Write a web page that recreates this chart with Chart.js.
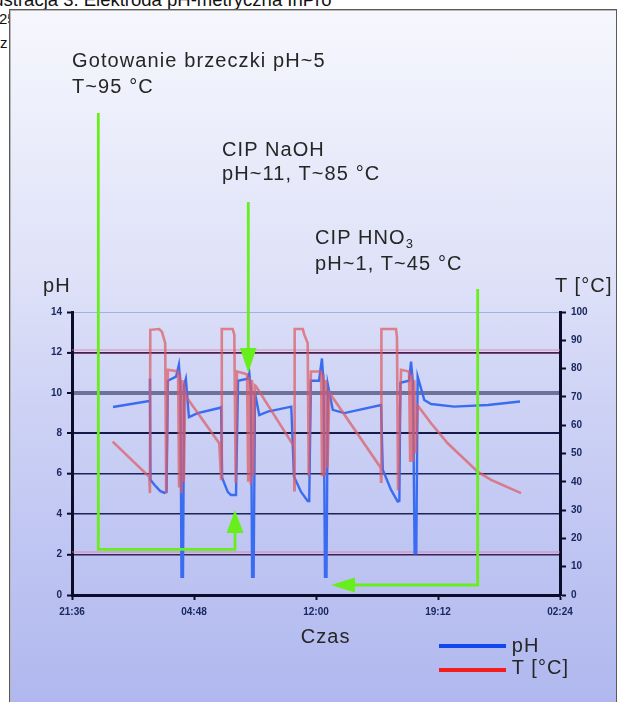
<!DOCTYPE html>
<html>
<head>
<meta charset="utf-8">
<script src="https://cdn.jsdelivr.net/npm/chart.js@4/dist/chart.umd.min.js"></script>
<style>
  html, body { margin:0; padding:0; }
  body { width:619px; height:702px; overflow:hidden; position:relative; background:#fff;
         font-family:"Liberation Sans", Arial, sans-serif; color:#222; }
  .t { position:absolute; white-space:nowrap; line-height:1; }
  #box { position:absolute; left:9px; top:9px; width:606px; height:720px;
         border:1px solid #5a5a5a; box-shadow: inset 1px 1px 0 #b8b8b8;
         background:linear-gradient(to bottom, #f6f7fd 0px, #dfe2f8 260px, #cdd2f5 400px, #adb5ee 720px); }
  #c { position:absolute; left:0; top:0; }
  .ann { font-size:20px; letter-spacing:1.1px; color:#262626; }
  svg { position:absolute; left:0; top:0; }
  .leg { position:absolute; height:4px; width:67px; left:439px; }
</style>
</head>
<body>
<div class="t" style="left:-16px; top:-9.5px; font-size:18.5px; color:#111;">Ilustracja 3. Elektroda pH-metryczna InPro</div>
<div class="t" style="left:-1px; top:11px; font-size:15px; color:#111;">25</div>
<div class="t" style="left:0px; top:35px; font-size:15px; color:#111;">z</div>
<div id="box"></div>
<canvas id="c" width="619" height="702"></canvas>

<div class="t ann" style="left:72px; top:50px;">Gotowanie brzeczki pH~5</div>
<div class="t ann" style="left:72px; top:75.6px;">T~95 °C</div>
<div class="t ann" style="left:222px; top:138.8px;">CIP NaOH</div>
<div class="t ann" style="left:222px; top:163.4px;">pH~11, T~85 °C</div>
<div class="t ann" style="left:315px; top:227.4px;">CIP HNO<sub style="font-size:13px;vertical-align:-4px;letter-spacing:0">3</sub></div>
<div class="t ann" style="left:315px; top:253.4px;">pH~1, T~45 °C</div>

<div class="t ann" style="left:43px; top:275.4px;">pH</div>
<div class="t ann" style="left:555px; top:275.4px;">T [°C]</div>
<div class="t ann" style="left:300.7px; top:626.4px;">Czas</div>

<div class="leg" style="top:644px; background:#1246ee;"></div>
<div class="leg" style="top:668px; background:#f41c1c;"></div>
<div class="t ann" style="left:511.7px; top:635.4px;">pH</div>
<div class="t ann" style="left:511.7px; top:657.4px;">T [°C]</div>

<svg width="619" height="702">
  <g fill="none" stroke="#68ee1c" stroke-width="2.8">
    <path d="M98.3 113 V549.3 H235 V532"/>
    <path d="M248.3 202 V350"/>
    <path d="M477.7 289 V585 H354"/>
  </g>
  <g fill="#68ee1c">
    <polygon points="226.5,533 243.5,533 235,510"/>
    <polygon points="240,348 256.5,348 248.3,373"/>
    <polygon points="355,577.5 355,592.5 331,585"/>
  </g>
</svg>

<script>
// ---- data (time in hours after 21:36) ----
const timeTickLabels = ['21:36', '04:48', '12:00', '19:12', '02:24'];
const phTickLabels = ['0','2','4','6','8','10','12','14'];

const phHours = [2.42, 4.56, 4.60, 4.63, 4.86, 5.20, 5.45, 5.58, 5.66, 6.14, 6.31, 6.40, 6.46, 6.55, 6.62, 6.72, 6.90, 7.42, 8.69,
  8.80, 8.86, 9.19, 9.38, 9.68, 9.80, 10.37, 10.46, 10.56, 10.63, 10.72, 10.80, 11.05, 11.55, 12.94,
  13.10, 13.52, 13.91, 14.00, 14.10, 14.58, 14.75, 14.85, 14.93, 15.02, 15.10, 15.39, 16.07, 18.24,
  18.34, 18.83, 19.22, 19.32, 19.38, 19.89, 20.01, 20.12, 20.22, 20.32, 20.40, 20.79, 21.19, 22.55, 24.55, 26.44];
const phValues = [9.3, 9.6, 10.7, 5.7, 5.45, 5.15, 5.05, 5.1, 10.6, 10.8, 11.4, 10.4, 0.9, 0.9, 10.4, 10.7, 8.8, 9.0, 9.25,
  9.3, 5.8, 5.1, 4.95, 4.95, 10.6, 10.7, 11.0, 10.2, 0.9, 0.9, 10.0, 8.9, 9.07, 9.32,
  5.86, 5.1, 4.65, 4.65, 10.6, 10.6, 11.7, 10.5, 0.9, 0.9, 10.4, 9.16, 9.0, 9.4,
  6.2, 5.2, 4.62, 4.65, 10.5, 10.6, 11.55, 10.5, 2.06, 2.06, 10.8, 9.65, 9.45, 9.32, 9.4, 9.57];

const tHours = [2.40, 4.56, 4.60, 4.62, 5.15, 5.31, 5.50, 5.56, 5.66, 6.26, 6.32, 6.38, 6.45, 6.52, 6.60, 6.68, 6.75, 8.69,
  8.80, 8.84, 9.48, 9.58, 9.66, 9.74, 10.33, 10.40, 10.47, 10.55, 10.62, 10.70, 10.80, 10.86, 13.10,
  13.12, 13.14, 13.62, 13.71, 13.91, 13.97, 14.10, 14.70, 14.76, 14.84, 14.92, 15.00, 15.08, 15.19, 18.22,
  18.24, 18.26, 19.12, 19.18, 19.24, 19.42, 19.89, 19.96, 20.04, 20.12, 20.20, 20.28, 20.40, 21.19, 22.17, 23.94, 24.73, 26.50];
const tValues = [54.2, 41.8, 36, 93.7, 94, 93, 89, 36, 79.6, 79, 38, 78, 36, 76, 40, 72, 70, 53.6,
  41, 94, 94, 92, 39.6, 79, 78, 40, 77, 39, 76, 42, 74, 73.7, 52.5,
  37, 94, 94, 92, 89, 42, 79, 79, 42, 78, 42, 76, 45, 71.5, 45,
  40, 94, 94, 91, 37, 79.6, 79, 47, 78, 47, 76, 50, 67, 60.7, 53.6, 43.6, 40.7, 36];

const toPts = (xs, ys) => xs.map((x, i) => ({ x: x, y: ys[i] }));

const gridColor = { 0:'#0b0b2a', 2:'#3a1f52', 4:'#1c2458', 6:'#1c2458', 8:'#141a4a', 10:'#6e7199', 12:'#4a1f50', 14:'#9fb3da' };
const gridWidth = { 0:1, 2:1.6, 4:1.4, 6:1.4, 8:2, 10:4, 12:1.8, 14:1 };

const fringe = {
  id: 'fringe',
  beforeDatasetsDraw(chart) {
    const { ctx, chartArea: a, scales: { y } } = chart;
    ctx.save();
    ctx.strokeStyle = 'rgba(225,120,165,0.55)';
    ctx.lineWidth = 1.5;
    [2, 12].forEach(v => {
      const py = y.getPixelForValue(v) - 2.5;
      ctx.beginPath(); ctx.moveTo(a.left, py); ctx.lineTo(a.right, py); ctx.stroke();
    });
    ctx.restore();
  }
};

const tickFont = { family: 'Liberation Sans', size: 10, weight: 'bold' };

new Chart(document.getElementById('c'), {
  type: 'line',
  data: {
    datasets: [
      { label: 'pH', data: toPts(phHours, phValues), yAxisID: 'y', borderColor: '#3a6cf2',
        borderWidth: 2.4, pointRadius: 0, tension: 0, order: 2 },
      { label: 'T [°C]', data: toPts(tHours, tValues), yAxisID: 'y1', borderColor: 'rgba(222,92,100,0.72)',
        borderWidth: 2.6, pointRadius: 0, tension: 0, order: 1 }
    ]
  },
  options: {
    responsive: false, animation: false, devicePixelRatio: 1,
    layout: { padding: { top: 312, left: 0, right: 0, bottom: 0 } },
    plugins: { legend: { display: false }, tooltip: { enabled: false } },
    scales: {
      x: {
        type: 'linear', min: 0, max: 28.8,
        afterFit: s => { s.height = 107; },
        afterBuildTicks: s => { s.ticks = timeTickLabels.map((_, i) => ({ value: i * 7.2 })); },
        ticks: { callback: (v, i) => timeTickLabels[i], font: tickFont, color: '#1a2860', padding: 6, maxRotation: 0 },
        grid: { drawOnChartArea: false, drawTicks: true, tickLength: 5, tickColor: '#0b0b2a', tickWidth: 2 },
        border: { color: '#0b0b2a', width: 3 }
      },
      y: {
        position: 'left', min: 0, max: 14,
        afterFit: s => { s.width = 72; },
        ticks: { stepSize: 2, callback: (v) => phTickLabels[v / 2], font: tickFont, color: '#1a2860', padding: 5 },
        grid: { color: c => gridColor[c.tick.value] || '#1c2458', lineWidth: c => gridWidth[c.tick.value] || 1.4,
                tickLength: 5, tickColor: '#0b0b2a', tickWidth: 2 },
        border: { color: '#0b0b2a', width: 3 }
      },
      y1: {
        position: 'right', min: 0, max: 100,
        afterFit: s => { s.width = 59; },
        ticks: { stepSize: 10, font: tickFont, color: '#1a2860', padding: 5 },
        grid: { drawOnChartArea: false, tickLength: 6, tickColor: '#0b0b2a', tickWidth: 2 },
        border: { color: '#0b0b2a', width: 3 }
      }
    }
  },
  plugins: [fringe]
});
</script>
</body>
</html>
